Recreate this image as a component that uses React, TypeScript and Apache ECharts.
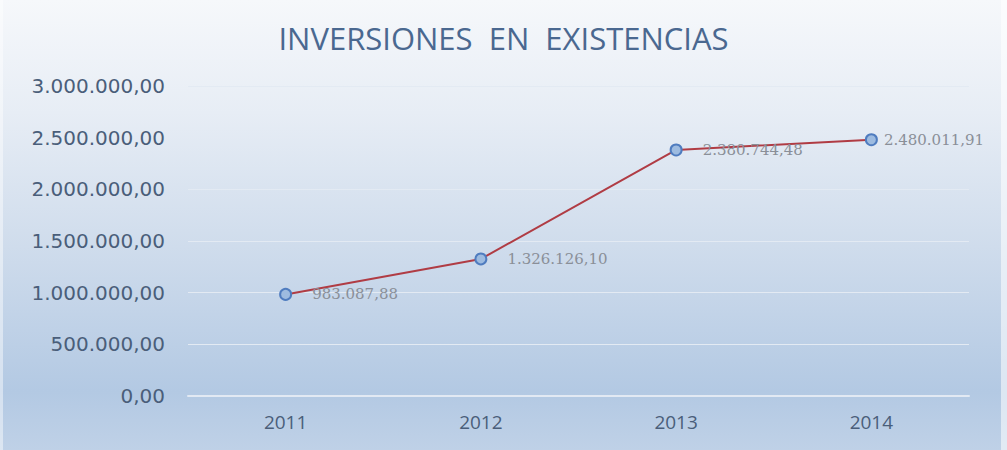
import React, { useEffect, useRef } from "react";
import * as echarts from "echarts";

const categories = ["2011", "2012", "2013", "2014"];
const values = [983087.88, 1326126.1, 2380744.48, 2480011.91];
const titleText = "INVERSIONES  EN  EXISTENCIAS";

const fmt = (v: number) => {
  const [i, d] = v.toFixed(2).split(".");
  return i.replace(/\B(?=(\d{3})+(?!\d))/g, ".") + "," + d;
};

export default function App() {
  const ref = useRef<HTMLDivElement>(null);
  useEffect(() => {
    document.body.style.margin = "0";
    const chart = echarts.init(ref.current!, null, { renderer: "svg" });
    chart.setOption({
      animation: false,
      backgroundColor: {
        type: "linear",
        x: 0, y: 0, x2: 0, y2: 1,
        colorStops: [
          { offset: 0, color: "#f6f8fb" },
          { offset: 0.25, color: "#e7edf5" },
          { offset: 0.55, color: "#cfdcec" },
          { offset: 0.87, color: "#b3c9e3" },
          { offset: 1, color: "#bfd1e7" },
        ],
      },
      title: {
        text: titleText,
        left: "center",
        top: 17,
        textStyle: {
          fontFamily: "Open Sans",
          fontWeight: "normal",
          fontSize: 31,
          color: "#4a6890",
        },
      },
      graphic: [
        { type: "rect", left: 0, top: 0, shape: { width: 3, height: 450 }, style: { fill: "rgba(255,255,255,0.45)" } },
        { type: "rect", right: 0, top: 0, shape: { width: 6, height: 450 }, style: { fill: "rgba(255,255,255,0.55)" } },
      ],
      grid: { left: 188, right: 38, top: 86, bottom: 54 },
      xAxis: {
        type: "category",
        data: categories,
        axisLine: { lineStyle: { color: "#e2e9f3", width: 2 } },
        axisTick: { show: false },
        axisLabel: {
          fontFamily: "Open Sans",
          fontSize: 19,
          color: "#4a5e7a",
          margin: 16,
        },
      },
      yAxis: {
        type: "value",
        min: 0,
        max: 3000000,
        interval: 500000,
        axisLine: { show: false },
        axisTick: { show: false },
        splitLine: { lineStyle: { color: "#e3eaf3", width: 1 } },
        axisLabel: {
          fontFamily: "DejaVu Sans",
          fontSize: 20,
          color: "#4a5e7a",
          margin: 23,
          formatter: (v: number) => fmt(v),
        },
      },
      series: [
        {
          type: "line",
          data: values,
          symbol: "circle",
          symbolSize: 11,
          lineStyle: { color: "#b03c44", width: 2 },
          itemStyle: { color: "#9dbbe0", borderColor: "#4f7cbf", borderWidth: 2 },
          label: {
            show: true,
            position: "right",
            distance: 6,
            fontFamily: "DejaVu Serif",
            fontSize: 15,
            color: "#8a8f98",
            formatter: (p: any) => fmt(p.value),
          },
          labelLayout: (params: any) => {
            const i = params.dataIndex;
            const dx = [14, 14, 14, 0][i];
            return {
              x: params.labelRect.x + dx,
              y: params.labelRect.y + params.labelRect.height / 2,
              verticalAlign: "middle",
            };
          },
        },
      ],
    });
    return () => chart.dispose();
  }, []);
  return (
    <div
      ref={ref}
      style={{ position: "absolute", left: 0, top: 0, width: 1007, height: 450 }}
    />
  );
}
